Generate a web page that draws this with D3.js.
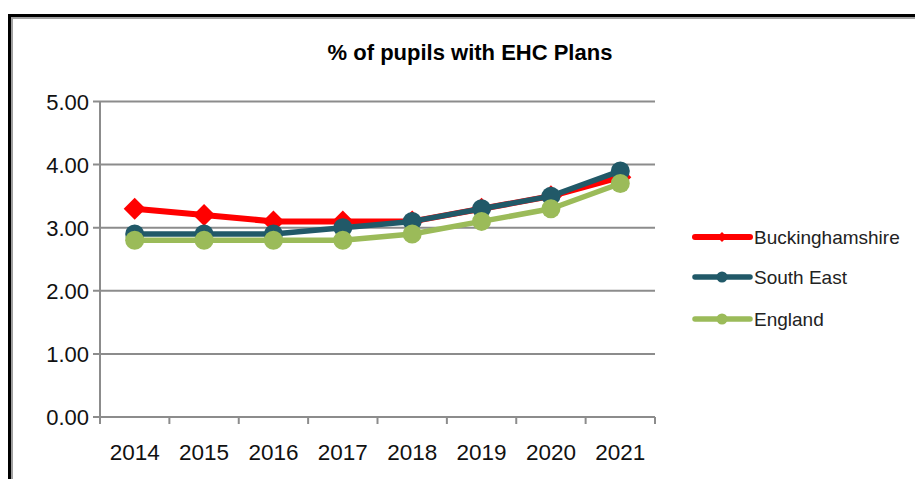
<!DOCTYPE html>
<html><head><meta charset="utf-8">
<script src="https://cdn.jsdelivr.net/npm/d3@7"></script>
<style>body{margin:0;background:#fff;}svg{display:block;font-family:"Liberation Sans",Arial,sans-serif;}</style>
</head><body><svg id="c" width="915" height="479"></svg>
<script>
const years = ["2014","2015","2016","2017","2018","2019","2020","2021"];
const buckinghamshire = [3.3, 3.2, 3.1, 3.1, 3.1, 3.3, 3.5, 3.8];
const southEast = [2.9, 2.9, 2.9, 3.0, 3.1, 3.3, 3.5, 3.9];
const england = [2.8, 2.8, 2.8, 2.8, 2.9, 3.1, 3.3, 3.7];
const yTicks = [0, 1, 2, 3, 4, 5];
const seriesNames = ["Buckinghamshire", "South East", "England"];

const svg = d3.select("#c");
// frame
svg.append("path").attr("d","M9.5,479 V15.5 H915").attr("fill","none").attr("stroke","#000").attr("stroke-width",3);
svg.append("path").attr("d","M12,479 V18 H915").attr("fill","none").attr("stroke","#a0a0a0").attr("stroke-width",2);

const x0 = 100, x1 = 655, yTop = 101.5, yBot = 417;
const x = d3.scaleBand().domain(years).range([x0, x1]);
const y = d3.scaleLinear().domain([0,5]).range([yBot, yTop]);

svg.append("text").attr("x", 470).attr("y", 60).attr("text-anchor","middle")
  .attr("font-weight","bold").attr("font-size",22).attr("fill","#000").text("% of pupils with EHC Plans");

// gridlines
const g = svg.append("g");
g.selectAll("line.grid").data(yTicks).join("line")
  .attr("x1", x0-7).attr("x2", x1).attr("y1", d=>y(d)).attr("y2", d=>y(d))
  .attr("stroke","#8c8c8c").attr("stroke-width",2);
// y axis line
g.append("line").attr("x1",x0).attr("x2",x0).attr("y1",yTop).attr("y2",yBot).attr("stroke","#8c8c8c").attr("stroke-width",2);
// x ticks at boundaries
const bounds = years.map(d=>x(d)).concat([x1]);
g.selectAll("line.xt").data(bounds).join("line")
  .attr("x1",d=>d).attr("x2",d=>d).attr("y1",yBot).attr("y2",yBot+7)
  .attr("stroke","#8c8c8c").attr("stroke-width",2);
// y labels
g.selectAll("text.yl").data(yTicks).join("text")
  .attr("x", 89).attr("y", d=>y(d)+8).attr("text-anchor","end")
  .attr("font-size",22).attr("fill","#111").text(d=>d.toFixed(2));
// x labels
g.selectAll("text.xl").data(years).join("text")
  .attr("x", d=>x(d)+x.bandwidth()/2).attr("y", 460).attr("text-anchor","middle")
  .attr("font-size",22.5).attr("fill","#111").text(d=>d);

const cx = d=>x(d)+x.bandwidth()/2;
const series = [
  {name:seriesNames[0], vals:buckinghamshire, color:"#ff0000", w:6, marker:"diamond", ms:11},
  {name:seriesNames[1], vals:southEast, color:"#215968", w:5.5, marker:"circle", ms:9.5},
  {name:seriesNames[2], vals:england, color:"#9bbb59", w:5.5, marker:"circle", ms:9.5}
];
const line = d3.line().x((d,i)=>cx(years[i])).y(d=>y(d));
const diamond = s => `M0,${-s} L${s},0 L0,${s} L${-s},0 Z`;
series.forEach(s=>{
  svg.append("path").attr("d", line(s.vals)).attr("fill","none").attr("stroke",s.color)
    .attr("stroke-width",s.w).attr("stroke-linejoin","round");
  const m = svg.append("g").selectAll("g").data(s.vals).join("g")
    .attr("transform",(d,i)=>`translate(${cx(years[i])},${y(d)})`);
  if (s.marker==="diamond") m.append("path").attr("d",diamond(s.ms)).attr("fill",s.color);
  else m.append("circle").attr("r",s.ms).attr("fill",s.color);
});

// legend
const ly = [237, 277, 319];
series.forEach((s,i)=>{
  const lg = svg.append("g");
  lg.append("line").attr("x1",695).attr("x2",750).attr("y1",ly[i]).attr("y2",ly[i])
    .attr("stroke",s.color).attr("stroke-width",s.w).attr("stroke-linecap","round");
  if (s.marker==="diamond") lg.append("path").attr("d",diamond(5)).attr("transform",`translate(722,${ly[i]})`).attr("fill",s.color);
  else lg.append("circle").attr("cx",722).attr("cy",ly[i]).attr("r",5.5).attr("fill",s.color);
  lg.append("text").attr("x",754).attr("y",ly[i]+7).attr("font-size",19).attr("fill","#222").text(s.name);
});
</script></body></html>
